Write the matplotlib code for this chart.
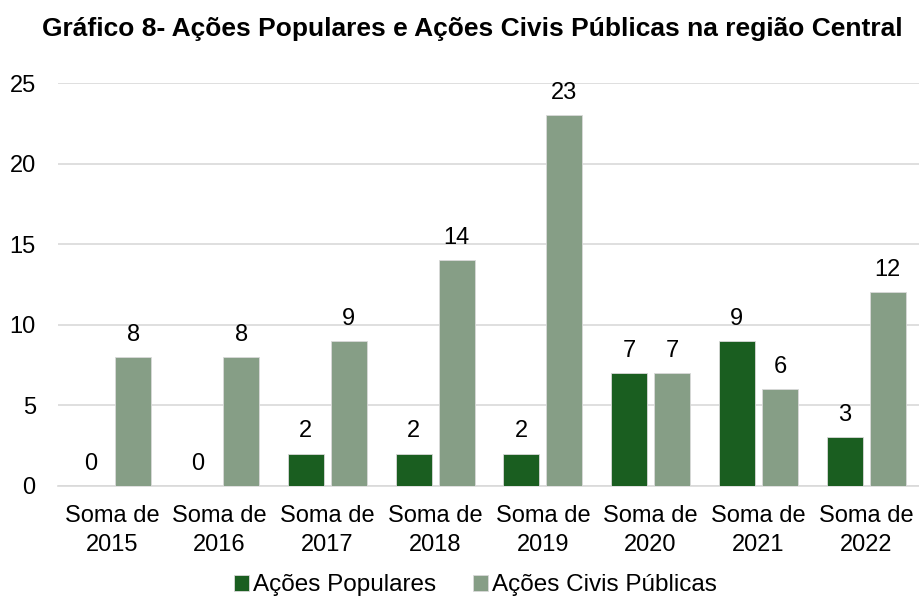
import numpy as np
import matplotlib.pyplot as plt

plt.rcParams['font.family'] = ['Liberation Sans', 'DejaVu Sans']

# chart data
categories = ['Soma de\n2015', 'Soma de\n2016', 'Soma de\n2017', 'Soma de\n2018',
              'Soma de\n2019', 'Soma de\n2020', 'Soma de\n2021', 'Soma de\n2022']
populares = [0, 0, 2, 2, 2, 7, 9, 3]
civis = [8, 8, 9, 14, 23, 7, 6, 12]

dark = '#1a5e20'
light = '#869e86'

fig = plt.figure(figsize=(9.2, 6.02), dpi=100)
ax = fig.add_axes([0.063, 0.193, 0.937, 0.669])

x = np.arange(len(categories))
w = 0.335
b1 = ax.bar(x - 0.2, populares, w, color=dark, edgecolor='#d9d9d9', linewidth=0.6,
            label='Ações Populares', zorder=3)
b2 = ax.bar(x + 0.2, civis, w, color=light, edgecolor='#d9d9d9', linewidth=0.6,
            label='Ações Civis Públicas', zorder=3)

for bars in (b1, b2):
    ax.bar_label(bars, padding=8, fontsize=17)

ax.set_xlim(-0.5, len(categories) - 0.5)
ax.set_ylim(0, 25)
ax.set_yticks(range(0, 26, 5))
ax.set_xticks(x)
ax.set_xticklabels(categories, fontsize=17, linespacing=1.4)
ax.tick_params(axis='y', labelsize=17, length=0, pad=16)
ax.tick_params(axis='x', length=0, pad=14)
ax.grid(axis='y', color='#d9d9d9', linewidth=1.2, zorder=0)
for s in ['top', 'right', 'left']:
    ax.spines[s].set_visible(False)
ax.spines['bottom'].set_color('#d9d9d9')
ax.spines['bottom'].set_linewidth(1.2)

fig.suptitle('Gráfico 8- Ações Populares e Ações Civis Públicas na região Central',
             fontsize=19, fontweight='bold', x=0.513, y=0.972)

fig.legend(loc='lower center', bbox_to_anchor=(0.517, -0.027), ncol=2, frameon=False,
           fontsize=17.5, handlelength=0.6, handleheight=0.6, handletextpad=0.2,
           columnspacing=1.5)

fig.savefig('out.png', dpi=100)
